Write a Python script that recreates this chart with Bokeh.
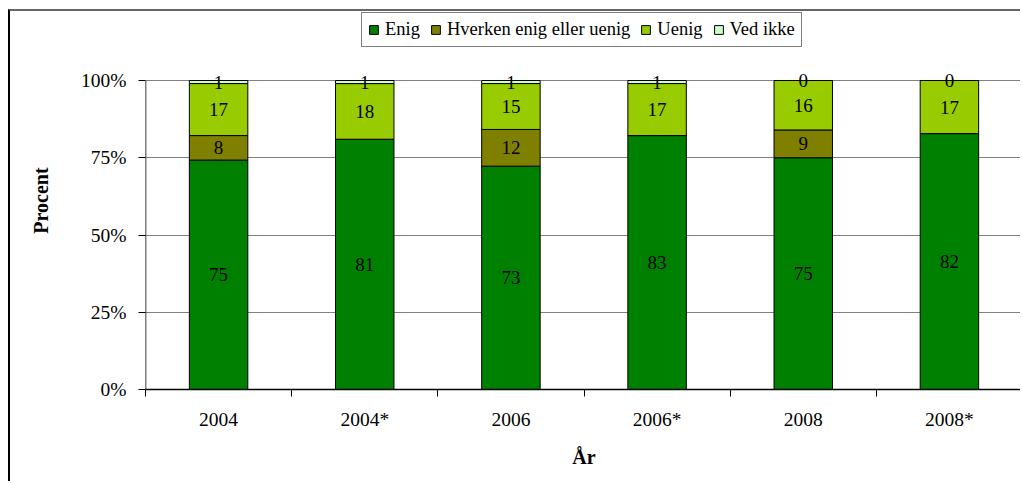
from bokeh.plotting import figure
from bokeh.models import (ColumnDataSource, Range1d, FixedTicker, Legend, LegendItem)
from bokeh.core.properties import value
from bokeh.embed import file_html
from bokeh.resources import INLINE

# ---- data ----
years = ["2004", "2004*", "2006", "2006*", "2008", "2008*"]
enig = [75, 81, 73, 83, 75, 82]
hverken = [8, None, 12, None, 9, None]
uenig = [17, 18, 15, 17, 16, 17]
ved_ikke = [1, 1, 1, 1, 0, 0]

series_names = ["Enig", "Hverken enig eller uenig", "Uenig", "Ved ikke"]
series_vals = [enig, hverken, uenig, ved_ikke]
colors = ["#008000", "#808000", "#99CC00", "#CCFFCC"]
keys = ["enig", "hverken", "uenig", "vedikke"]

FONT = "Liberation Serif"

# layout constants (page pixels)
CANVAS_LEFT, CANVAS_TOP = 10, 11
FRAME_LEFT, FRAME_BOTTOM, Y100 = 145, 389, 80
PX_PER_UNIT = (FRAME_BOTTOM - Y100) / 100.0
Y_END = (FRAME_BOTTOM - CANVAS_TOP) / PX_PER_UNIT

# 100% stacked: normalise each column by its total
xs = [i + 0.5 for i in range(len(years))]
totals = [sum((s[i] or 0) for s in series_vals) for i in range(len(years))]
data = {"x": xs}
for k, s in zip(keys, series_vals):
    data[k] = [100.0 * (v or 0) / t for v, t in zip(s, totals)]
source = ColumnDataSource(data)

p = figure(width=1022 - CANVAS_LEFT, height=483 - CANVAS_TOP,
           x_range=Range1d(0, len(years)), y_range=Range1d(0, Y_END),
           output_backend="svg", toolbar_location=None,
           min_border_left=FRAME_LEFT - CANVAS_LEFT, min_border_right=0,
           min_border_top=0, min_border_bottom=483 - FRAME_BOTTOM)
p.outline_line_color = None
p.background_fill_color = "white"
p.border_fill_color = "white"

p.xgrid.grid_line_color = None
p.ygrid.ticker = FixedTicker(ticks=[25, 50, 75, 100])
p.ygrid.grid_line_color = "#808080"
p.ygrid.grid_line_width = 1

renderers = p.vbar_stack(keys, x="x", width=0.4, source=source, color=colors,
                         line_color="black", line_width=1)

# y axis line only from 0 to 100%
p.segment(x0=[0], y0=[0], x1=[0], y1=[100], line_color="black", line_width=1.5)

# labels at the centre of each segment
lx, ly, lt = [], [], []
for i in range(len(years)):
    base = 0.0
    for k, s in zip(keys, series_vals):
        h = data[k][i]
        if s[i] is not None:
            lx.append(xs[i])
            ly.append(base + h / 2.0)
            lt.append(str(s[i]))
        base += h
p.text(x=lx, y=ly, text=lt, text_font=value(FONT), text_font_size="19px",
       text_align="center", text_baseline="middle", text_color="black")

# axes
p.yaxis.ticker = FixedTicker(ticks=[0, 25, 50, 75, 100])
p.yaxis.major_label_overrides = {0: "0%", 25: "25%", 50: "50%", 75: "75%", 100: "100%"}
p.yaxis.major_tick_in = 0
p.yaxis.major_tick_out = 7
p.yaxis.major_label_standoff = 12
p.yaxis.axis_label = "Procent"
p.yaxis.axis_label_text_font_style = "bold"
p.yaxis.axis_label_standoff = 26
p.yaxis.axis_line_color = None
p.yaxis.minor_tick_line_color = None

p.xaxis.ticker = FixedTicker(ticks=xs, minor_ticks=list(range(len(years) + 1)))
p.xaxis.major_label_overrides = {x: y for x, y in zip(xs, years)}
p.xaxis.major_tick_in = 0
p.xaxis.major_tick_out = 0
p.xaxis.minor_tick_in = 0
p.xaxis.minor_tick_out = 7
p.xaxis.minor_tick_line_color = "black"
p.xaxis.major_label_standoff = 12
p.xaxis.axis_label = "År"
p.xaxis.axis_label_text_font_style = "bold"
p.xaxis.axis_label_standoff = 13
p.xaxis.axis_line_color = "black"
p.xaxis.axis_line_width = 1.5

for ax in (p.xaxis, p.yaxis):
    ax.major_tick_line_color = "black"
    ax.major_label_text_font = FONT
    ax.major_label_text_font_size = "19.5px"
    ax.major_label_text_color = "black"
    ax.axis_label_text_font = FONT
    ax.axis_label_text_font_size = "20px"
    ax.axis_label_text_color = "black"

legend = Legend(items=[LegendItem(label=n, renderers=[r]) for n, r in zip(series_names, renderers)],
                orientation="horizontal", location=(361 - FRAME_LEFT, FRAME_BOTTOM - 47))
legend.label_text_font = FONT
legend.label_text_font_size = "18.5px"
legend.label_text_color = "black"
legend.glyph_width = 11
legend.glyph_height = 11
legend.label_standoff = 6
legend.spacing = 10
legend.padding = 6
legend.margin = 0
legend.border_line_color = "black"
legend.border_line_width = 1
legend.background_fill_color = "white"
legend.background_fill_alpha = 1
p.add_layout(legend, "center")

p.styles = {"margin-left": "8px", "margin-top": "9px",
            "border-left": "2px solid black", "border-top": "2px solid #666"}

open("out.html", "w").write(file_html(p, INLINE))
